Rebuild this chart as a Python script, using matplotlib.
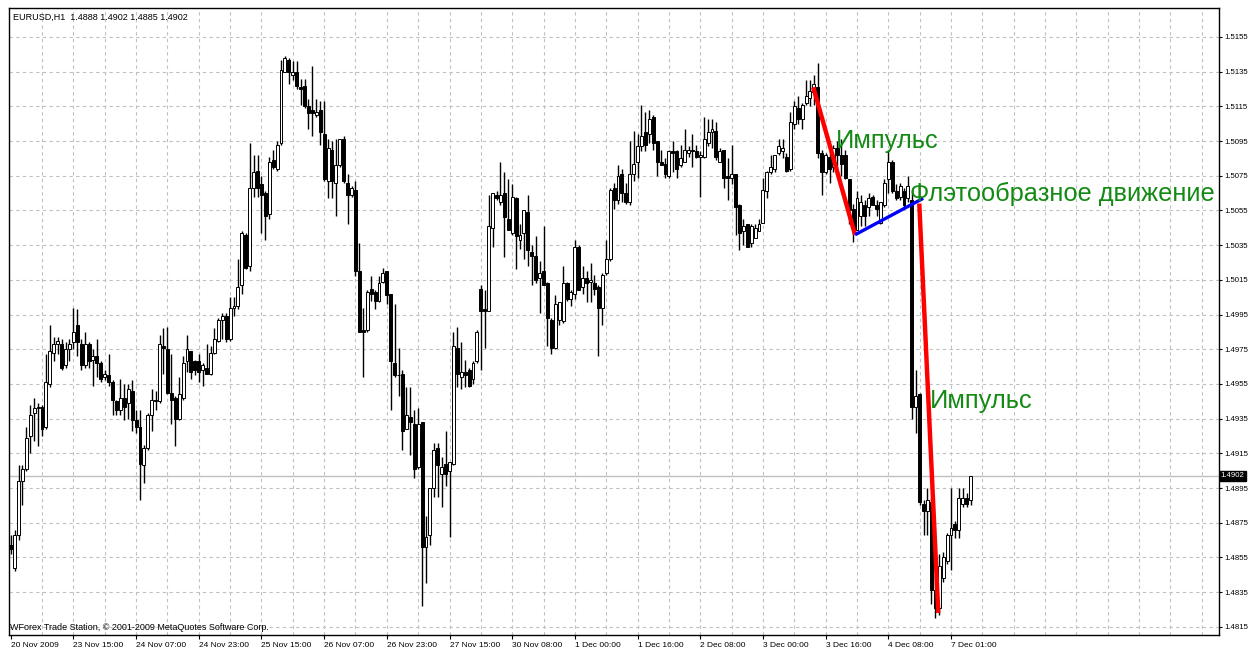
import numpy as np
import matplotlib.pyplot as plt

# EURUSD H1 candles (bar 0 = 20 Nov 2009)
opens = [1.4862, 1.4849, 1.4868, 1.4899, 1.4906, 1.4925, 1.4938, 1.4941, 1.4942, 1.4930,
         1.4955, 1.4973, 1.4978, 1.4978, 1.4966, 1.4975, 1.4979, 1.4989, 1.4978, 1.4966,
         1.4978, 1.4969, 1.4971, 1.4967, 1.4959, 1.4960, 1.4956, 1.4945, 1.4940, 1.4947,
         1.4944, 1.4951, 1.4934, 1.4930, 1.4908, 1.4918, 1.4937, 1.4945, 1.4945, 1.4977,
         1.4975, 1.4950, 1.4947, 1.4935, 1.4947, 1.4968, 1.4974, 1.4968, 1.4968, 1.4963,
         1.4964, 1.4961, 1.4973, 1.4980, 1.4992, 1.4994, 1.4981, 1.4999, 1.5000, 1.5012,
         1.5041, 1.5023, 1.5068, 1.5078, 1.5070, 1.5065, 1.5053, 1.5084, 1.5079, 1.5094,
         1.5135, 1.5142, 1.5133, 1.5135, 1.5126, 1.5127, 1.5115, 1.5113, 1.5110, 1.5113,
         1.5099, 1.5072, 1.5090, 1.5071, 1.5081, 1.5096, 1.5071, 1.5064, 1.5067, 1.5020,
         1.4986, 1.4986, 1.5010, 1.5008, 1.5003, 1.5014, 1.5020, 1.5007, 1.4967, 1.4960,
         1.4961, 1.4929, 1.4936, 1.4932, 1.4907, 1.4933, 1.4861, 1.4868, 1.4895, 1.4918,
         1.4903, 1.4909, 1.4905, 1.4909, 1.4976, 1.4959, 1.4962, 1.4963, 1.4958, 1.4968,
         1.5010, 1.4998, 1.4997, 1.5045, 1.5064, 1.5060, 1.5065, 1.5050, 1.5042, 1.5062,
         1.5038, 1.5042, 1.5054, 1.5031, 1.5029, 1.5016, 1.5020, 1.5013, 1.4992, 1.4976,
         1.4992, 1.4991, 1.5013, 1.5004, 1.5007, 1.5034, 1.5011, 1.5016, 1.5014, 1.5013,
         1.5011, 1.4999, 1.5019, 1.5027, 1.5068, 1.5061, 1.5076, 1.5065, 1.5060, 1.5076,
         1.5083, 1.5092, 1.5100, 1.5099, 1.5109, 1.5095, 1.5083, 1.5082, 1.5075, 1.5089,
         1.5089, 1.5081, 1.5083, 1.5088, 1.5090, 1.5089, 1.5086, 1.5086, 1.5094, 1.5100,
         1.5101, 1.5083, 1.5090, 1.5075, 1.5074, 1.5076, 1.5058, 1.5043, 1.5047, 1.5036,
         1.5039, 1.5043, 1.5048, 1.5066, 1.5077, 1.5079, 1.5088, 1.5089, 1.5086, 1.5079,
         1.5105, 1.5114, 1.5108, 1.5117, 1.5120, 1.5123, 1.5126, 1.5088, 1.5077, 1.5086,
         1.5080, 1.5091, 1.5087, 1.5087, 1.5073, 1.5056, 1.5044, 1.5052, 1.5058, 1.5057,
         1.5063, 1.5058, 1.5048, 1.5058, 1.5073, 1.5083, 1.5066, 1.5063, 1.5066, 1.5062,
         1.5061, 1.4942, 1.4949, 1.4886, 1.4882, 1.4887, 1.4836, 1.4826, 1.4843, 1.4853,
         1.4868, 1.4874, 1.4871, 1.4886, 1.4889, 1.4888]
highs = [1.4868, 1.4871, 1.4908, 1.4908, 1.4930, 1.4943, 1.4947, 1.4944, 1.4943, 1.4972,
         1.4989, 1.4982, 1.4982, 1.4981, 1.4979, 1.4981, 1.4999, 1.4998, 1.4981, 1.4985,
         1.4979, 1.4975, 1.4981, 1.4968, 1.4963, 1.4972, 1.4957, 1.4946, 1.4958, 1.4955,
         1.4955, 1.4957, 1.4940, 1.4940, 1.4920, 1.4938, 1.4952, 1.4951, 1.4983, 1.4987,
         1.4988, 1.4972, 1.4948, 1.4959, 1.4971, 1.4983, 1.4974, 1.4969, 1.4972, 1.4967,
         1.4978, 1.4977, 1.4987, 1.4993, 1.4996, 1.4996, 1.5005, 1.5005, 1.5027, 1.5043,
         1.5042, 1.5094, 1.5087, 1.5087, 1.5075, 1.5066, 1.5086, 1.5090, 1.5095, 1.5142,
         1.5144, 1.5143, 1.5141, 1.5141, 1.5131, 1.5131, 1.5119, 1.5138, 1.5119, 1.5118,
         1.5118, 1.5096, 1.5095, 1.5096, 1.5096, 1.5098, 1.5076, 1.5069, 1.5072, 1.5036,
         1.4999, 1.5009, 1.5017, 1.5009, 1.5017, 1.5022, 1.5020, 1.5007, 1.5001, 1.4976,
         1.4963, 1.4953, 1.4953, 1.4940, 1.4941, 1.4933, 1.4879, 1.4895, 1.4921, 1.4921,
         1.4913, 1.4928, 1.4910, 1.4985, 1.4988, 1.4979, 1.4969, 1.4964, 1.4968, 1.4986,
         1.5012, 1.5009, 1.5064, 1.5065, 1.5066, 1.5083, 1.5077, 1.5073, 1.5070, 1.5063,
         1.5047, 1.5055, 1.5064, 1.5035, 1.5040, 1.5026, 1.5046, 1.5014, 1.4993, 1.5006,
         1.5002, 1.5023, 1.5014, 1.5009, 1.5038, 1.5035, 1.5023, 1.5020, 1.5025, 1.5018,
         1.5012, 1.5019, 1.5038, 1.5068, 1.5071, 1.5081, 1.5079, 1.5071, 1.5095, 1.5101,
         1.5099, 1.5116, 1.5112, 1.5113, 1.5110, 1.5095, 1.5090, 1.5085, 1.5090, 1.5095,
         1.5090, 1.5093, 1.5102, 1.5092, 1.5099, 1.5093, 1.5089, 1.5109, 1.5108, 1.5108,
         1.5106, 1.5091, 1.5090, 1.5085, 1.5093, 1.5076, 1.5059, 1.5050, 1.5047, 1.5047,
         1.5047, 1.5050, 1.5074, 1.5078, 1.5087, 1.5087, 1.5096, 1.5096, 1.5088, 1.5112,
         1.5118, 1.5121, 1.5117, 1.5130, 1.5130, 1.5133, 1.5140, 1.5090, 1.5088, 1.5089,
         1.5093, 1.5095, 1.5096, 1.5090, 1.5073, 1.5059, 1.5066, 1.5064, 1.5061, 1.5065,
         1.5064, 1.5061, 1.5060, 1.5073, 1.5090, 1.5084, 1.5070, 1.5071, 1.5068, 1.5075,
         1.5066, 1.4963, 1.4950, 1.4888, 1.4895, 1.4889, 1.4845, 1.4857, 1.4858, 1.4869,
         1.4895, 1.4876, 1.4895, 1.4895, 1.4892, 1.4902]
lows = [1.4857, 1.4847, 1.4865, 1.4885, 1.4905, 1.4915, 1.4922, 1.4919, 1.4925, 1.4929,
        1.4953, 1.4968, 1.4972, 1.4963, 1.4964, 1.4968, 1.4975, 1.4971, 1.4963, 1.4964,
        1.4964, 1.4954, 1.4959, 1.4956, 1.4957, 1.4954, 1.4937, 1.4937, 1.4937, 1.4934,
        1.4935, 1.4928, 1.4927, 1.4888, 1.4898, 1.4917, 1.4928, 1.4940, 1.4944, 1.4961,
        1.4949, 1.4932, 1.4919, 1.4934, 1.4946, 1.4962, 1.4958, 1.4960, 1.4956, 1.4954,
        1.4961, 1.4960, 1.4972, 1.4979, 1.4981, 1.4979, 1.4980, 1.4994, 1.4998, 1.5007,
        1.5021, 1.5020, 1.5063, 1.5063, 1.5042, 1.5038, 1.5050, 1.5079, 1.5078, 1.5093,
        1.5135, 1.5128, 1.5130, 1.5125, 1.5116, 1.5114, 1.5102, 1.5098, 1.5109, 1.5093,
        1.5072, 1.5062, 1.5062, 1.5052, 1.5080, 1.5071, 1.5047, 1.5063, 1.5017, 1.4985,
        1.4959, 1.4985, 1.5003, 1.4998, 1.5002, 1.5013, 1.5001, 1.4940, 1.4959, 1.4948,
        1.4917, 1.4929, 1.4914, 1.4901, 1.4906, 1.4827, 1.4840, 1.4862, 1.4890, 1.4890,
        1.4884, 1.4896, 1.4867, 1.4908, 1.4953, 1.4952, 1.4953, 1.4953, 1.4955, 1.4967,
        1.4963, 1.4976, 1.4997, 1.5034, 1.5061, 1.5058, 1.5028, 1.5044, 1.5041, 1.5021,
        1.5033, 1.5027, 1.5023, 1.5012, 1.5013, 1.4996, 1.5012, 1.4977, 1.4972, 1.4975,
        1.4989, 1.4990, 1.5003, 1.5000, 1.5004, 1.5009, 1.5007, 1.5002, 1.5002, 1.5006,
        1.4971, 1.4989, 1.5018, 1.5026, 1.5056, 1.5059, 1.5060, 1.5059, 1.5058, 1.5072,
        1.5074, 1.5089, 1.5089, 1.5094, 1.5090, 1.5075, 1.5081, 1.5074, 1.5074, 1.5077,
        1.5074, 1.5080, 1.5083, 1.5086, 1.5080, 1.5085, 1.5063, 1.5085, 1.5092, 1.5091,
        1.5084, 1.5083, 1.5068, 1.5061, 1.5070, 1.5041, 1.5032, 1.5035, 1.5034, 1.5034,
        1.5039, 1.5043, 1.5048, 1.5062, 1.5076, 1.5077, 1.5087, 1.5085, 1.5077, 1.5078,
        1.5102, 1.5105, 1.5102, 1.5116, 1.5115, 1.5116, 1.5085, 1.5064, 1.5076, 1.5071,
        1.5077, 1.5077, 1.5075, 1.5073, 1.5047, 1.5037, 1.5044, 1.5046, 1.5046, 1.5052,
        1.5058, 1.5052, 1.5047, 1.5057, 1.5065, 1.5065, 1.5061, 1.5061, 1.5057, 1.5060,
        1.4935, 1.4927, 1.4885, 1.4868, 1.4868, 1.4828, 1.4820, 1.4822, 1.4841, 1.4851,
        1.4848, 1.4866, 1.4866, 1.4884, 1.4884, 1.4885]
closes = [1.4860, 1.4868, 1.4899, 1.4906, 1.4924, 1.4937, 1.4941, 1.4942, 1.4929, 1.4956,
          1.4974, 1.4978, 1.4980, 1.4964, 1.4975, 1.4978, 1.4985, 1.4979, 1.4966, 1.4978,
          1.4968, 1.4971, 1.4967, 1.4958, 1.4961, 1.4956, 1.4946, 1.4940, 1.4947, 1.4942,
          1.4952, 1.4934, 1.4930, 1.4909, 1.4918, 1.4937, 1.4946, 1.4946, 1.4978, 1.4976,
          1.4950, 1.4946, 1.4935, 1.4949, 1.4967, 1.4975, 1.4962, 1.4963, 1.4962, 1.4966,
          1.4961, 1.4973, 1.4981, 1.4992, 1.4994, 1.4981, 1.4999, 1.5000, 1.5011, 1.5042,
          1.5022, 1.5068, 1.5077, 1.5068, 1.5064, 1.5052, 1.5083, 1.5080, 1.5093, 1.5136,
          1.5143, 1.5135, 1.5135, 1.5127, 1.5125, 1.5115, 1.5111, 1.5111, 1.5112, 1.5100,
          1.5073, 1.5091, 1.5072, 1.5081, 1.5096, 1.5072, 1.5064, 1.5068, 1.5020, 1.4985,
          1.4985, 1.5008, 1.5007, 1.5003, 1.5013, 1.5019, 1.5006, 1.4968, 1.4960, 1.4960,
          1.4928, 1.4937, 1.4933, 1.4906, 1.4932, 1.4861, 1.4867, 1.4895, 1.4917, 1.4908,
          1.4907, 1.4903, 1.4910, 1.4977, 1.4961, 1.4962, 1.4960, 1.4954, 1.4967, 1.4985,
          1.4997, 1.4997, 1.5046, 1.5065, 1.5062, 1.5064, 1.5051, 1.5044, 1.5063, 1.5040,
          1.5041, 1.5055, 1.5032, 1.5029, 1.5015, 1.5019, 1.5012, 1.4993, 1.4976, 1.5001,
          1.5002, 1.5013, 1.5004, 1.5008, 1.5034, 1.5009, 1.5016, 1.5013, 1.5015, 1.5010,
          1.4999, 1.5018, 1.5027, 1.5067, 1.5061, 1.5075, 1.5065, 1.5060, 1.5076, 1.5082,
          1.5092, 1.5098, 1.5093, 1.5108, 1.5094, 1.5083, 1.5081, 1.5076, 1.5089, 1.5088,
          1.5079, 1.5085, 1.5090, 1.5090, 1.5089, 1.5086, 1.5087, 1.5096, 1.5100, 1.5102,
          1.5086, 1.5089, 1.5074, 1.5074, 1.5076, 1.5057, 1.5042, 1.5046, 1.5034, 1.5046,
          1.5045, 1.5047, 1.5067, 1.5077, 1.5080, 1.5087, 1.5092, 1.5091, 1.5078, 1.5106,
          1.5115, 1.5108, 1.5116, 1.5121, 1.5124, 1.5128, 1.5088, 1.5077, 1.5087, 1.5079,
          1.5091, 1.5087, 1.5082, 1.5074, 1.5055, 1.5043, 1.5062, 1.5060, 1.5052, 1.5062,
          1.5058, 1.5056, 1.5060, 1.5071, 1.5083, 1.5066, 1.5062, 1.5069, 1.5058, 1.5069,
          1.4942, 1.4948, 1.4887, 1.4882, 1.4888, 1.4836, 1.4826, 1.4850, 1.4855, 1.4868,
          1.4872, 1.4871, 1.4889, 1.4889, 1.4886, 1.4902]

date_labels = ['20 Nov 2009', '23 Nov 15:00', '24 Nov 07:00', '24 Nov 23:00', '25 Nov 15:00',
               '26 Nov 07:00', '26 Nov 23:00', '27 Nov 15:00', '30 Nov 08:00', '1 Dec 00:00',
               '1 Dec 16:00', '2 Dec 08:00', '3 Dec 00:00', '3 Dec 16:00', '4 Dec 08:00',
               '7 Dec 01:00']
label_step = 16
price_ticks = [1.4815, 1.4835, 1.4855, 1.4875, 1.4895, 1.4915, 1.4935, 1.4955, 1.4975,
               1.4995, 1.5015, 1.5035, 1.5055, 1.5075, 1.5095, 1.5115, 1.5135, 1.5155]
last_price = 1.4902

# hand-drawn wave markup (bar index, price)
impulse_lines = [[(204.85, 1.5126), (215.5, 1.5041)],
                 [(231.9, 1.5059), (236.75, 1.4823)]]
flat_line = [(215.5, 1.5041), (232.9, 1.5062)]
notes = [('Импульс', 210.6, 1.5091),
         ('Флэтообразное движение', 229.5, 1.50605),
         ('Импульс', 234.6, 1.49412)]

W, H = 1249, 650
fig = plt.figure(figsize=(W / 100, H / 100), dpi=100)
ax = fig.add_axes([9 / W, 1 - 635 / H, 1210 / W, 627 / H])

xmin, xmax = -0.43, 308.4
ymin, ymax = 1.48103, 1.51717
ax.set_xlim(xmin, xmax)
ax.set_ylim(ymin, ymax)

grid_kw = dict(color='#c0c0c0', lw=0.8, ls=(0, (3, 3)), zorder=0)
for p in price_ticks:
    ax.axhline(p, **grid_kw)
for gx in range(8, int(xmax) + 1, 8):
    ax.axvline(gx, **grid_kw)
ax.axhline(last_price, color='#c0c0c0', lw=1, zorder=0.5)

# candles
o = np.array(opens)
h = np.array(highs)
l = np.array(lows)
c = np.array(closes)
x = np.arange(len(o))
ax.vlines(x, l, h, color='black', lw=1, zorder=2)
bull = c >= o
body = np.maximum(np.abs(c - o), 0.00004)
bottom = np.minimum(o, c)
ax.bar(x[bull], body[bull], bottom=bottom[bull], width=0.75, color='white',
       edgecolor='black', lw=0.7, zorder=3)
ax.bar(x[~bull], body[~bull], bottom=bottom[~bull], width=0.75, color='black',
       edgecolor='black', lw=0.7, zorder=3)

# markup
for seg in impulse_lines:
    ax.plot([seg[0][0], seg[1][0]], [seg[0][1], seg[1][1]], color='red', lw=3.2,
            solid_capstyle='butt', zorder=5)
ax.plot([flat_line[0][0], flat_line[1][0]], [flat_line[0][1], flat_line[1][1]],
        color='blue', lw=2.4, solid_capstyle='butt', zorder=5)
for txt, tx, ty in notes:
    ax.text(tx, ty, txt, color='#138a13', fontsize=18.3, family='Liberation Sans',
            ha='left', va='baseline', zorder=6)

# axes
for s in ax.spines.values():
    s.set_color('black')
    s.set_linewidth(1)
ax.yaxis.tick_right()
ax.set_yticks(price_ticks)
ax.set_yticklabels([f'{p:.4f}' for p in price_ticks])
ax.tick_params(axis='y', length=2.5, width=0.8, pad=1.2, labelsize=5.6,
               labelfontfamily='Liberation Sans')
ticks_x = [i * label_step for i in range(len(date_labels))]
ax.set_xticks(ticks_x)
ax.set_xticklabels(date_labels, ha='left')
ax.tick_params(axis='x', length=3, width=0.8, pad=2, labelsize=6,
               labelfontfamily='Liberation Sans')

ax.text(1.0015, last_price, f'{last_price:.4f}', transform=ax.get_yaxis_transform(),
        color='white', fontsize=5.6, family='Liberation Sans', va='center', ha='left',
        bbox=dict(boxstyle='square,pad=0.15', fc='black', ec='black'), zorder=7)

fig.text(13 / W, 1 - 17 / H, 'EURUSD,H1  1.4888 1.4902 1.4885 1.4902', fontsize=6.5,
         family='Liberation Sans', va='center', ha='left')
fig.text(10 / W, 1 - 628 / H, 'WForex Trade Station, © 2001-2009 MetaQuotes Software Corp.',
         fontsize=6.5, family='Liberation Sans', va='center', ha='left')

fig.savefig('out.png', dpi=100)
